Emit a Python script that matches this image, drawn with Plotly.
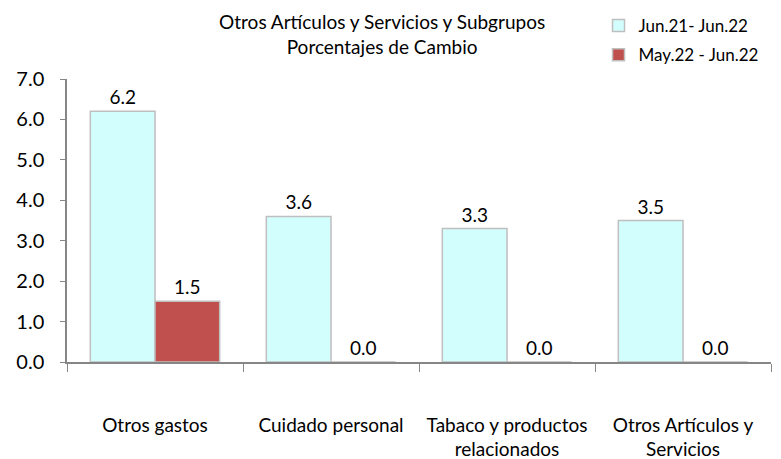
import plotly.graph_objects as go

categories = ["Otros gastos", "Cuidado personal", "Tabaco y productos<br>relacionados", "Otros Artículos y<br>Servicios"]
serie_anual = [6.2, 3.6, 3.3, 3.5]
serie_mensual = [1.5, 0.0, 0.0, 0.0]
nombre_anual = "Jun.21- Jun.22"
nombre_mensual = "May.22 - Jun.22"
titulo = "Otros Artículos y Servicios y Subgrupos<br>Porcentajes de Cambio"
y_ticks = [0, 1, 2, 3, 4, 5, 6, 7]

FONT = "Lato"

fig = go.Figure()
fig.add_trace(go.Bar(
    x=categories, y=serie_anual, name=nombre_anual, legendgroup="a",
    marker=dict(color="#d3fefe", line=dict(color="#bfbfbf", width=1.5)),
    text=[f"{v:.1f}" for v in serie_anual], textposition="outside",
    textfont=dict(size=19, color="#000000", family=FONT), cliponaxis=False,
))
fig.add_trace(go.Bar(
    x=categories, y=serie_mensual, name=nombre_mensual, legendgroup="b",
    marker=dict(color="#c0504d", line=dict(color="#bfbfbf", width=1.5)),
    text=[f"{v:.1f}" for v in serie_mensual], textposition="outside",
    textfont=dict(size=19, color="#000000", family=FONT), cliponaxis=False,
))

fig.update_layout(
    width=773, height=451,
    margin=dict(l=59, r=10, t=71, b=97, autoexpand=False),
    paper_bgcolor="white", plot_bgcolor="white",
    font=dict(family=FONT, color="#000000"),
    barmode="group", bargap=0.265, bargroupgap=0,
    title=dict(text=titulo, x=0.484, xanchor="center", y=0.953, yanchor="top",
               font=dict(size=19, family=FONT, color="#000000")),
    legend=dict(x=0.755, xanchor="left", yref="container", y=1.02, yanchor="top",
                font=dict(size=17, family=FONT), tracegroupgap=4,
                bgcolor="rgba(0,0,0,0)"),
    xaxis=dict(showline=True, linecolor="#868686", linewidth=1.5, automargin=False,
               ticks="outside", tickson="boundaries", ticklen=8, tickcolor="#868686",
               tickfont=dict(size=19, family=FONT), ticklabelstandoff=45,
               showgrid=False),
    yaxis=dict(range=[0, 7], tickvals=y_ticks, tickformat=".1f", automargin=False,
               showline=True, linecolor="#868686", linewidth=1.5,
               ticks="outside", ticklen=5, tickcolor="#868686",
               tickfont=dict(size=20, family=FONT), ticklabelstandoff=12,
               showgrid=False, zeroline=False),
)

fig.write_html("out.html")
